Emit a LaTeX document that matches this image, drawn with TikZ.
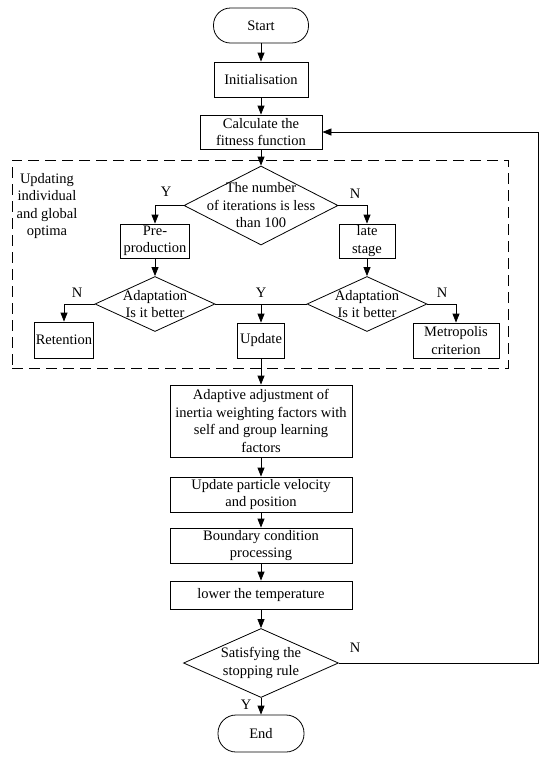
\documentclass[tikz,border=0pt]{standalone}
\usepackage{fontspec}
\setmainfont{Liberation Serif}
\usetikzlibrary{arrows.meta, shapes.geometric}

\begin{document}
\begin{tikzpicture}[
    x=1pt, y=-1pt, line width=0.8pt,
    every node/.style={font=\fontsize{14.5}{17.5}\selectfont},
    term/.style={rectangle, draw, rounded corners=17pt, minimum width=95pt, minimum height=35pt, inner sep=0pt},
    proc/.style={rectangle, draw, align=center, minimum height=35pt, inner sep=0pt},
    cond/.style={diamond, draw, inner sep=0pt},
    txt/.style={align=center, inner sep=0pt},
    group/.style={draw, dash pattern=on 11pt off 6pt, inner sep=0pt},
    arrow/.style={-{Triangle[length=9pt, width=7pt]}}
]

% Background
\fill[white] (0, 0) rectangle (550, 761);

% Start and set-up
\node[term] (start) at (261, 25.5) {Start};
\node[proc, minimum width=94pt] (init) at (261, 79.5) {Initialisation};
\node[proc, minimum width=122pt, minimum height=34pt] (calc) at (261, 132) {Calculate the\\fitness function};

% Update of individual and global optima
\node[group, minimum width=496pt, minimum height=208pt] (optima) at (260, 264) {};
\node[txt] (optimatext) at (47, 206) {Updating\\individual\\and global\\optima};

\node[cond, minimum width=154pt, minimum height=79pt,
      label={[txt]center:The number\\of iterations is less\\than 100}] (iter) at (261, 205.5) {};
\node[proc, minimum width=69pt, minimum height=34pt] (early) at (155, 241) {Pre-\\production};
\node[proc, minimum width=56pt, minimum height=34pt] (late) at (367, 241) {late\\stage};

\node[cond, minimum width=120pt, minimum height=55pt,
      label={[txt]center:Adaptation\\Is it better}] (fitl) at (155, 304) {};
\node[cond, minimum width=120pt, minimum height=55pt,
      label={[txt]center:Adaptation\\Is it better}] (fitr) at (367, 304) {};

\node[proc, minimum width=59pt, minimum height=36pt] (keep) at (64, 340) {Retention};
\node[proc, minimum width=47pt] (update) at (261, 340.5) {Update};
\node[proc, minimum width=86pt] (metro) at (456, 340.5) {Metropolis\\criterion};

% Particle update steps
\node[proc, minimum width=182pt, minimum height=72pt] (adapt) at (261, 421) {Adaptive adjustment of\\inertia weighting factors with\\self and group learning\\factors};
\node[proc, minimum width=182pt] (move) at (261, 494.5) {Update particle velocity\\and position};
\node[proc, minimum width=182pt] (bound) at (261, 545.5) {Boundary condition\\processing};
\node[proc, minimum width=182pt, minimum height=28pt] (cool) at (261, 595) {lower the temperature};

% Stopping test and end
\node[cond, minimum width=155pt, minimum height=69pt,
      label={[txt]center:Satisfying the\\stopping rule}] (stop) at (261, 663) {};
\node[term, minimum width=86pt, minimum height=37pt, rounded corners=18pt] (finish) at (261, 733.5) {End};

% Branch labels
\node (iterY) at (166, 192) {Y};
\node (iterN) at (355, 194) {N};
\node (fitlN) at (77, 293) {N};
\node (fitY) at (261, 293) {Y};
\node (fitrN) at (442, 293) {N};
\node (stopN) at (355, 648) {N};
\node (stopY) at (246, 705) {Y};

% Connections
\draw[arrow] (start) -- (init);
\draw[arrow] (init) -- (calc);
\draw[arrow] (calc) -- (iter);
\draw[arrow] (iter.west) -| (early.north);
\draw[arrow] (iter.east) -| (late.north);
\draw[arrow] (early) -- (fitl);
\draw[arrow] (late) -- (fitr);
\draw[arrow] (fitl.west) -| (keep.north);
\draw[arrow] (fitr.east) -| (metro.north);
\draw (fitl.east) -- (fitr.west);
\coordinate (join) at (fitl.east -| update.north);
\draw[arrow] (join) -- (update.north);
\draw[arrow] (update) -- (adapt);
\draw[arrow] (adapt) -- (move);
\draw[arrow] (move) -- (bound);
\draw[arrow] (bound) -- (cool);
\draw[arrow] (cool) -- (stop);
\draw[arrow] (stop) -- (finish);
\coordinate (back) at (538, 663);
\draw[arrow] (stop.east) -- (back) |- (calc.east);

\end{tikzpicture}
\end{document}
